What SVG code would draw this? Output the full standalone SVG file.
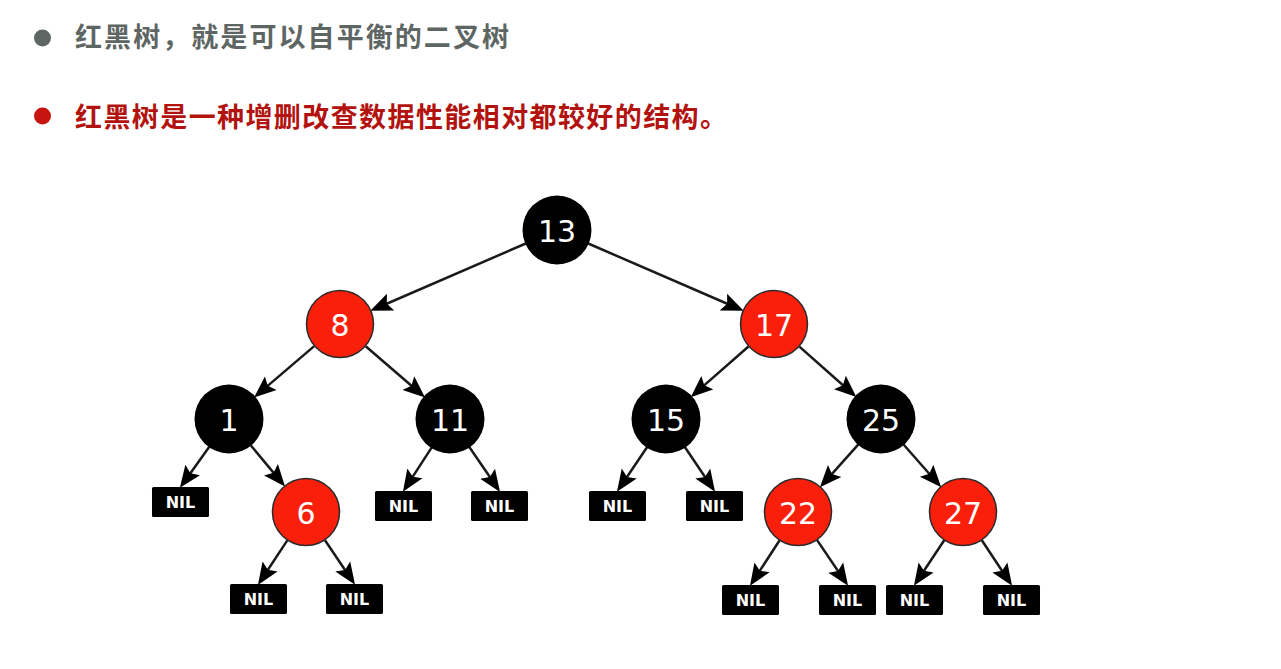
<svg xmlns="http://www.w3.org/2000/svg" width="1281" height="669" viewBox="0 0 1281 669">
  <style>
    .title { font-family: "Noto Sans CJK SC", "Noto Sans", sans-serif; font-weight: bold; font-size: 27px; }
    .blk { fill: #000000; }
    .red { fill: #fa1f0a; stroke: #2a2a2a; stroke-width: 1.5; }
    .num { font-family: "DejaVu Sans", sans-serif; font-size: 30px; fill: #ffffff; text-anchor: middle; dominant-baseline: central; }
    .nil rect { fill: #000000; }
    .nil text { font-family: "DejaVu Sans", sans-serif; font-weight: bold; font-size: 16px; fill: #ffffff; text-anchor: middle; dominant-baseline: central; }
    .edge line { stroke: #1a1a1a; stroke-width: 2.5; marker-end: url(#arr); }
  </style>
  <defs>
    <marker id="arr" markerUnits="userSpaceOnUse" viewBox="0 -10 23 20" markerWidth="23" markerHeight="20" refX="11" refY="0" orient="auto">
      <path d="M0,-9 L22,0 L0,9 L4,0 z" fill="#000000"/>
    </marker>
  </defs>
  <rect width="1281" height="669" fill="#ffffff"/>

  <g id="bullet1">
    <circle cx="42.5" cy="38" r="8.5" fill="#5e6664"/>
    <text class="title" x="75" y="47" fill="#5e6664" textLength="434" lengthAdjust="spacing">红黑树，就是可以自平衡的二叉树</text>
  </g>
  <g id="bullet2">
    <circle cx="42.5" cy="116" r="8.5" fill="#c8140e"/>
    <text class="title" x="75" y="127" fill="#b3130f" textLength="652" lengthAdjust="spacing">红黑树是一种增删改查数据性能相对都较好的结构。</text>
  </g>

  <g id="connectors" class="edge">
    <line x1="525.8" y1="243.5" x2="380.4" y2="306.5"/>
    <line x1="588.2" y1="243.5" x2="733.6" y2="306.5"/>
    <line x1="314.2" y1="346.1" x2="262.4" y2="390.4"/>
    <line x1="365.7" y1="346.2" x2="416.7" y2="390.3"/>
    <line x1="748.5" y1="346.5" x2="699.0" y2="389.9"/>
    <line x1="799.4" y1="346.6" x2="848.1" y2="389.8"/>
    <line x1="209.3" y1="446.7" x2="186.3" y2="478.9"/>
    <line x1="250.7" y1="445.2" x2="278.0" y2="478.1"/>
    <line x1="431.6" y1="447.6" x2="408.9" y2="482.6"/>
    <line x1="469.3" y1="447.0" x2="493.8" y2="482.8"/>
    <line x1="287.3" y1="540.4" x2="264.0" y2="575.7"/>
    <line x1="325.0" y1="540.2" x2="348.9" y2="575.7"/>
    <line x1="647.0" y1="447.2" x2="623.1" y2="482.7"/>
    <line x1="685.0" y1="447.2" x2="708.9" y2="482.7"/>
    <line x1="858.4" y1="444.4" x2="827.3" y2="479.1"/>
    <line x1="903.5" y1="444.5" x2="933.9" y2="479.0"/>
    <line x1="779.5" y1="540.5" x2="756.0" y2="576.6"/>
    <line x1="817.1" y1="540.1" x2="841.9" y2="576.7"/>
    <line x1="944.2" y1="540.3" x2="920.0" y2="576.7"/>
    <line x1="981.8" y1="540.3" x2="1006.0" y2="576.7"/>
  </g>

  <g id="n13"><circle class="blk" cx="557" cy="230" r="34.5"/><text class="num" x="557" y="231">13</text></g>
  <g id="n8"><circle class="red" cx="340" cy="324" r="33.5"/><text class="num" x="340" y="325">8</text></g>
  <g id="n17"><circle class="red" cx="774" cy="324" r="33.5"/><text class="num" x="774" y="325">17</text></g>
  <g id="n1"><circle class="blk" cx="229" cy="419" r="34.5"/><text class="num" x="229" y="420">1</text></g>
  <g id="n11"><circle class="blk" cx="450" cy="419" r="34.5"/><text class="num" x="450" y="420">11</text></g>
  <g id="n15"><circle class="blk" cx="666" cy="419" r="34.5"/><text class="num" x="666" y="420">15</text></g>
  <g id="n25"><circle class="blk" cx="881" cy="419" r="34.5"/><text class="num" x="881" y="420">25</text></g>
  <g id="n6"><circle class="red" cx="306" cy="512" r="33.5"/><text class="num" x="306" y="513">6</text></g>
  <g id="n22"><circle class="red" cx="798" cy="512" r="33.5"/><text class="num" x="798" y="513">22</text></g>
  <g id="n27"><circle class="red" cx="963" cy="512" r="33.5"/><text class="num" x="963" y="513">27</text></g>

  <g id="nil1" class="nil"><rect x="152" y="487" width="57" height="30" rx="1.5"/><text x="180.5" y="502.5">NIL</text></g>
  <g id="nil11a" class="nil"><rect x="375" y="491" width="57" height="30" rx="1.5"/><text x="403.5" y="506.5">NIL</text></g>
  <g id="nil11b" class="nil"><rect x="471" y="491" width="57" height="30" rx="1.5"/><text x="499.5" y="506.5">NIL</text></g>
  <g id="nil6a" class="nil"><rect x="230" y="584" width="57" height="30" rx="1.5"/><text x="258.5" y="599.5">NIL</text></g>
  <g id="nil6b" class="nil"><rect x="326" y="584" width="57" height="30" rx="1.5"/><text x="354.5" y="599.5">NIL</text></g>
  <g id="nil15a" class="nil"><rect x="589" y="491" width="57" height="30" rx="1.5"/><text x="617.5" y="506.5">NIL</text></g>
  <g id="nil15b" class="nil"><rect x="686" y="491" width="57" height="30" rx="1.5"/><text x="714.5" y="506.5">NIL</text></g>
  <g id="nil22a" class="nil"><rect x="722" y="585" width="57" height="30" rx="1.5"/><text x="750.5" y="600.5">NIL</text></g>
  <g id="nil22b" class="nil"><rect x="819" y="585" width="57" height="30" rx="1.5"/><text x="847.5" y="600.5">NIL</text></g>
  <g id="nil27a" class="nil"><rect x="886" y="585" width="57" height="30" rx="1.5"/><text x="914.5" y="600.5">NIL</text></g>
  <g id="nil27b" class="nil"><rect x="983" y="585" width="57" height="30" rx="1.5"/><text x="1011.5" y="600.5">NIL</text></g>
</svg>
